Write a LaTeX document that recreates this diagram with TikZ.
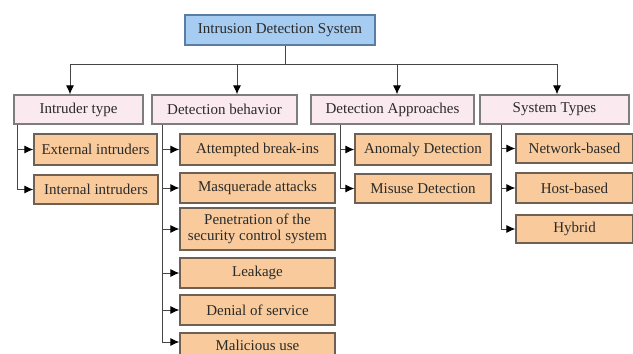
\documentclass[tikz,border=0pt]{standalone}
\usepackage{fontspec}
\setmainfont{Liberation Serif}
\usepackage{tikz}
\usetikzlibrary{arrows.meta}
\definecolor{topfill}{HTML}{A6CCF2}
\definecolor{topline}{HTML}{5A7DA3}
\definecolor{catfill}{HTML}{FBE9F0}
\definecolor{catline}{HTML}{7D7D7D}
\definecolor{subfill}{HTML}{F9CB9C}
\definecolor{subline}{HTML}{6F6054}
\definecolor{wire}{HTML}{454545}
\definecolor{ink}{HTML}{2A2A2A}
\tikzset{
	topbox/.style={draw=topline,fill=topfill,line width=1.2pt,minimum width=190pt,minimum height=30pt,inner sep=0pt},
	catbox/.style={draw=catline,fill=catfill,line width=1.2pt,minimum height=29pt,inner sep=0pt},
	subbox/.style={draw=subline,fill=subfill,line width=1.2pt,minimum height=30pt,inner sep=0pt,align=center},
	wire/.style={draw=wire,line width=1pt},
}

\begin{document}
\begin{tikzpicture}[x=1pt,y=-1pt,>={Latex[length=9pt,width=8pt,color=black]},font=\fontsize{15}{15.5}\selectfont,text=ink]
			\useasboundingbox (0,0) rectangle (633,354);
			% top node
			\node[topbox] (ids) at (280,30) {Intrusion Detection System};
			
			% second level
			\node[catbox,minimum width=129pt] (itype) at (78.5,109.5) {Intruder type};
			\node[catbox,minimum width=145pt] (dbeh) at (224.5,109.5) {Detection behavior};
			\node[catbox,minimum width=163pt] (dapp) at (392.5,109.5) {Detection Approaches};
			\node[catbox,minimum width=149pt] (stype) at (554.5,109.5) {System Types};
			
			% intruder type
			\node[subbox,minimum width=123pt,minimum height=31pt] (ext) at (95.5,149.5) {External intruders};
			\node[subbox,minimum width=124pt,minimum height=29pt] (int) at (96,189.5) {Internal intruders};
			
			% detection behavior
			\node[subbox,minimum width=155pt,minimum height=31pt] (brk) at (257.5,149.5) {Attempted break-ins};
			\node[subbox,minimum width=155pt] (masq) at (257.5,188) {Masquerade attacks};
			\node[subbox,minimum width=155pt,minimum height=42pt] (pen) at (257.5,229) {Penetration of the\\security control system};
			\node[subbox,minimum width=155pt] (leak) at (257.5,273) {Leakage};
			\node[subbox,minimum width=155pt] (dos) at (257.5,310) {Denial of service};
			\node[subbox,minimum width=155pt,minimum height=24pt] (mal) at (257.5,345) {Malicious use};
			
			% detection approaches
			\node[subbox,minimum width=136pt,minimum height=31pt] (anom) at (423,149.5) {Anomaly Detection};
			\node[subbox,minimum width=136pt,minimum height=29pt] (mis) at (423,188.5) {Misuse Detection};
			
			% system types
			\node[subbox,minimum width=117pt,minimum height=29pt] (net) at (574.5,148.5) {Network-based};
			\node[subbox,minimum width=117pt] (host) at (574.5,188) {Host-based};
			\node[subbox,minimum width=117pt,minimum height=28pt] (hyb) at (574.5,229) {Hybrid};
			
			% bus under the top node
			\coordinate (busL) at (70,64);
			\coordinate (busR) at (557,64);
			\draw[wire] (ids.south -| 285,0) -- (285,64);
			\draw[wire] (busL) -- (busR);
			\draw[wire,->] (busL) -- (busL |- itype.north);
			\draw[wire,->] (237,64) -- (237,0 |- dbeh.north);
			\draw[wire,->] (397,64) -- (397,0 |- dapp.north);
			\draw[wire,->] (busR) -- (busR |- stype.north);
			
			% branches
			\coordinate (sp1) at ([xshift=4pt]itype.south west);
			\coordinate (sp2) at ([xshift=11pt]dbeh.south west);
			\coordinate (sp3) at ([xshift=30pt]dapp.south west);
			\coordinate (sp4) at ([xshift=22pt]stype.south west);
			\draw[wire,->] (sp1) |- (int.west);
			\draw[wire,->] (sp1 |- ext.west) -- (ext.west);
			\draw[wire,->] (sp2) |- ([yshift=3pt]mal.west);
			\foreach \n in {brk,masq,pen,leak,dos}
				\draw[wire,->] (sp2 |- \n.west) -- (\n.west);
			\draw[wire,->] (sp3) |- (mis.west);
			\draw[wire,->] (sp3 |- anom.west) -- (anom.west);
			\draw[wire,->] (sp4) |- (hyb.west);
			\foreach \n in {net,host}
				\draw[wire,->] (sp4 |- \n.west) -- (\n.west);
			
			\end{tikzpicture}
\end{document}
